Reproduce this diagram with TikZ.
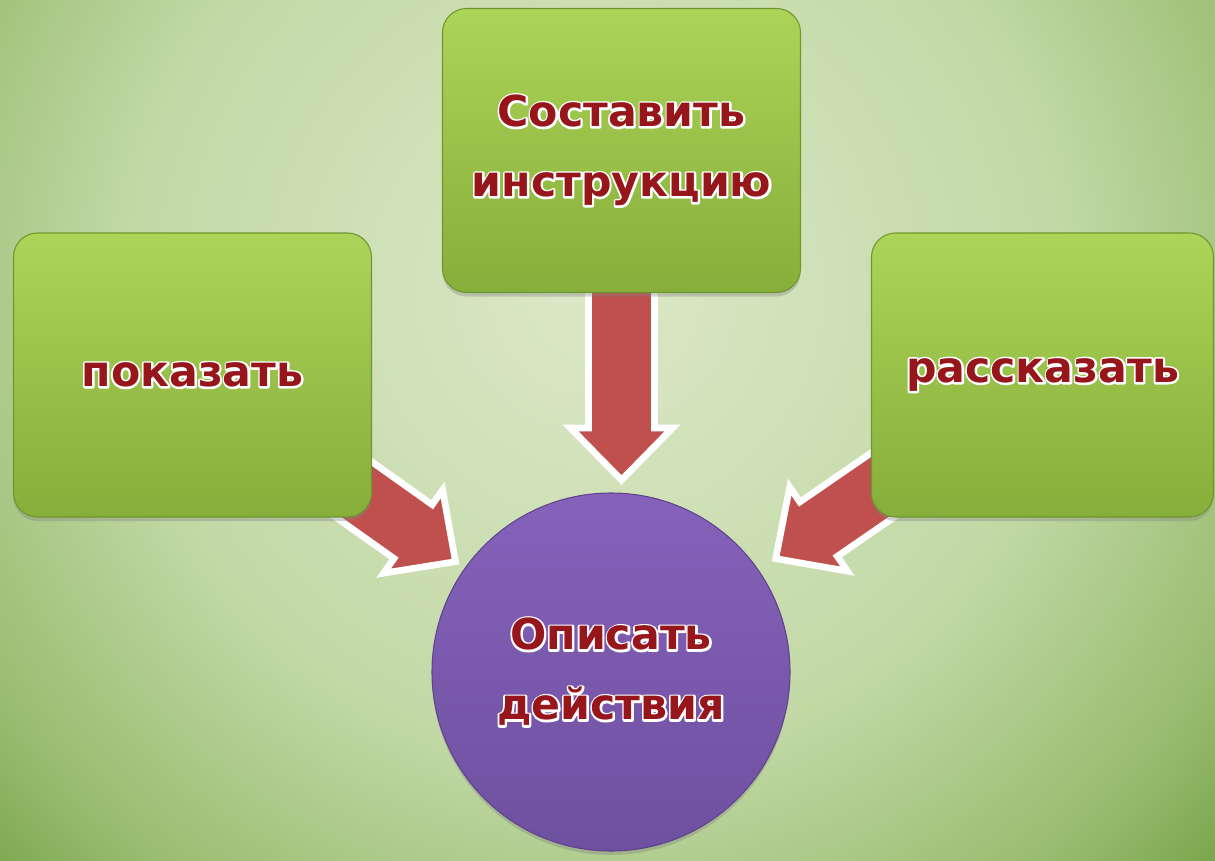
\documentclass[tikz,border=0pt]{standalone}
\usepackage{fontspec}
\usetikzlibrary{calc,shadows}
\newfontfamily\lblfont{DejaVu Sans}
\definecolor{lblred}{RGB}{150,22,28}
\definecolor{boxtop}{RGB}{172,212,88}
\definecolor{boxbot}{RGB}{134,174,58}
\definecolor{boxedge}{RGB}{112,150,46}
\definecolor{ringtop}{RGB}{134,98,186}
\definecolor{ringbot}{RGB}{110,80,160}
\definecolor{ringedge}{RGB}{96,66,142}
\definecolor{arrred}{RGB}{192,80,77}
\newcommand{\lbl}[1]{\makebox[0pt][l]{\special{pdf:literal direct 1 Tr 3 w 1 j 1 1 1 RG}#1\special{pdf:literal direct 0 Tr}}\textcolor{lblred}{#1}}
\newcommand{\blockarrow}[3]{%
	\coordinate (tip) at ($(#2)!#3!(#1)$);
	\coordinate (base) at ($(tip)!39pt!(#1)$);
	\coordinate (tail) at ($(tip)!200pt!(#1)$);
	\draw [block] ($(tail)!24.75pt!90:(tip)$) -- ($(base)!24.75pt!90:(tip)$) -- ($(base)!38.25pt!90:(tip)$) -- (tip) -- ($(base)!38.25pt!-90:(tip)$) -- ($(base)!24.75pt!-90:(tip)$) -- ($(tail)!24.75pt!-90:(tip)$) -- cycle;
}
\pgfdeclareradialshading{bgglow}{\pgfpoint{0bp}{0bp}}{rgb(0bp)=(0.86,0.91,0.78); rgb(13bp)=(0.76,0.85,0.65); rgb(20bp)=(0.60,0.74,0.44); rgb(25bp)=(0.42,0.61,0.24); rgb(50bp)=(0.42,0.61,0.24)}
\pgfdeclarelayer{back}
\pgfsetlayers{back,main}
\tikzset{
	box/.style={rectangle, rounded corners=18pt, top color=boxtop, bottom color=boxbot, draw=boxedge, line width=0.8pt, minimum width=268.5pt, minimum height=213pt, align=center, font={\lblfont\bfseries\fontsize{32pt}{52.5pt}\selectfont}, drop shadow={shadow xshift=0pt, shadow yshift=-3pt, opacity=0.35}},
	ring/.style={circle, top color=ringtop, bottom color=ringbot, draw=ringedge, line width=0.8pt, minimum size=268.5pt, align=center, font={\lblfont\bfseries\fontsize{32pt}{52.5pt}\selectfont}, drop shadow={shadow xshift=0pt, shadow yshift=-3pt, opacity=0.35}},
	block/.style={draw=white, line width=5pt, line join=miter, fill=arrred}
}
\begin{document}
\begin{tikzpicture}[x=0.75pt, y=-0.75pt]
	\useasboundingbox (0,0) rectangle (1215,861);
	\node[box] (0) at (192.5,375) {\lbl{показать}};
	\node[box, minimum width=256.5pt] (1) at (1042.5,375) {\lbl{рассказать}};
	\node[box] (2) at (621.5,150.5) {\lbl{Составить}\\\lbl{инструкцию}};
	\node[ring] (3) at (611,672) {\lbl{Описать}\\\lbl{действия}};
	\coordinate (c2) at (2 |- 3);
	\begin{pgfonlayer}{back}
		\begin{scope}
			\clip (0,0) rectangle (1215,861);
			\shade[shading=bgglow] (595,290) circle (675pt);
		\end{scope}
		\blockarrow{0}{3}{143pt}
		\blockarrow{1}{3}{150pt}
		\blockarrow{2}{c2}{144pt}
	\end{pgfonlayer}
\end{tikzpicture}
\end{document}
